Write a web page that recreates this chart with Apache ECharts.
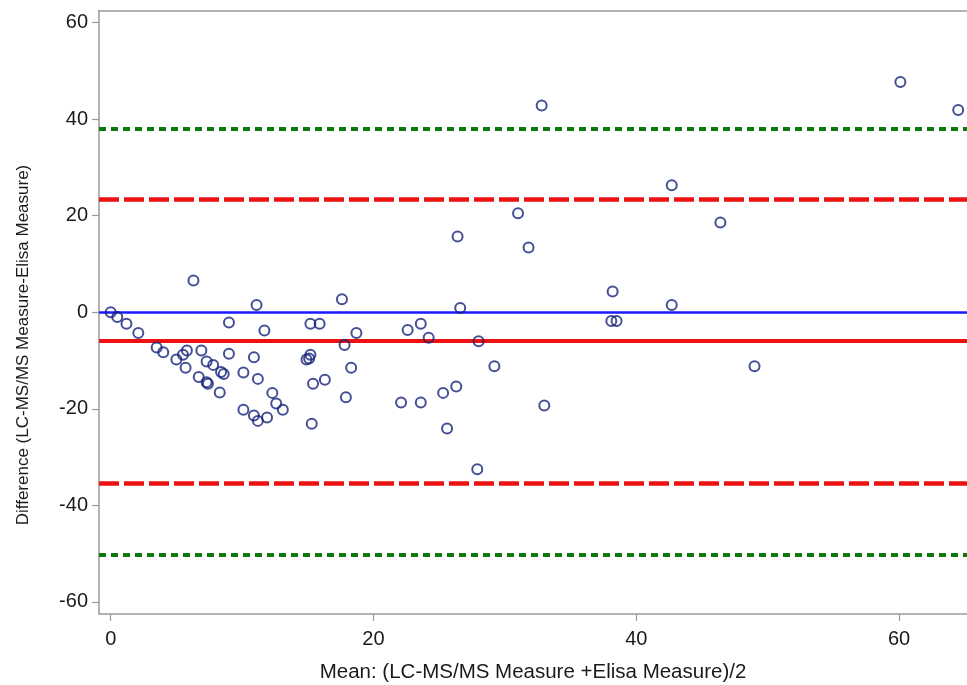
<!DOCTYPE html>
<html>
<head>
<meta charset="utf-8">
<script src="https://cdn.jsdelivr.net/npm/echarts@6/dist/echarts.min.js"></script>
<style>
html,body{margin:0;padding:0;background:#fff;}
#chart{width:967px;height:685px;}
</style>
</head>
<body>
<div id="chart"></div>
<script>
// Mean of the two methods (x) and their difference (y)
var meanVals = [0.0,0.5,1.2,2.1,3.5,4.0,5.0,5.5,5.8,5.7,6.3,6.9,7.3,7.8,6.7,7.3,7.4,8.4,8.6,8.3,
  9.0,9.0,10.1,10.9,11.1,11.2,11.7,10.1,10.9,11.2,11.9,12.3,12.6,13.1,14.9,15.1,15.2,15.2,15.9,15.4,
  16.3,15.3,17.6,17.8,18.7,18.3,17.9,22.1,22.6,23.6,23.6,24.2,25.3,25.6,26.3,26.4,26.6,27.9,28.0,29.2,
  31.0,31.8,32.8,33.0,38.2,38.1,38.5,42.7,42.7,46.4,49.0,60.1,64.5];
var diffVals = [0.0,-1.0,-2.4,-4.3,-7.3,-8.3,-9.8,-8.8,-7.9,-11.5,6.6,-7.9,-10.2,-10.9,-13.4,-14.5,-14.8,-12.4,-12.8,-16.6,
  -8.6,-2.1,-12.5,-9.3,1.5,-13.8,-3.8,-20.2,-21.4,-22.5,-21.8,-16.7,-18.9,-20.2,-9.8,-9.6,-8.8,-2.4,-2.4,-14.8,
  -14.0,-23.1,2.7,-6.8,-4.3,-11.5,-17.6,-18.7,-3.7,-2.4,-18.7,-5.3,-16.7,-24.1,-15.4,15.7,0.9,-32.5,-6.0,-11.2,
  20.5,13.4,42.8,-19.3,4.3,-1.8,-1.8,26.3,1.5,18.6,-11.2,47.7,41.9];

// Reference lines
var zeroLine = 0;
var meanDiff = -6.0;
var loaUpper = 23.5;
var loaLower = -35.5;
var outerUpper = 38.0;
var outerLower = -50.3;

var xTicks = [0, 20, 40, 60];
var yTicks = [-60, -40, -20, 0, 20, 40, 60];

var xTitle = 'Mean: (LC-MS/MS Measure +Elisa Measure)/2';
var yTitle = 'Difference (LC-MS/MS Measure-Elisa Measure)';

var points = meanVals.map(function (m, i) { return [m, diffVals[i]]; });

var chart = echarts.init(document.getElementById('chart'));
var axisGray = '#9a9a9a';
var fontFam = 'Liberation Sans, Arial, sans-serif';

chart.setOption({
  animation: false,
  backgroundColor: '#ffffff',
  grid: { left: 99, top: 10.5, right: 0, bottom: 71, containLabel: false, outerBoundsMode: 'none' },
  xAxis: [{
    type: 'value', min: -0.89, max: 65.17,
    position: 'bottom',
    splitLine: { show: false },
    axisLine: { show: true, onZero: false, lineStyle: { color: axisGray, width: 1.5 } },
    axisTick: { show: true, customValues: xTicks, length: 7, lineStyle: { color: axisGray, width: 1.2 } },
    axisLabel: { customValues: xTicks, margin: 15, color: '#1a1a1a', fontSize: 20, fontFamily: fontFam },
    name: xTitle, nameLocation: 'middle', nameGap: 48,
    nameTextStyle: { color: '#1a1a1a', fontSize: 20.5, fontFamily: fontFam }
  }, {
    type: 'value', min: -0.89, max: 65.17,
    position: 'top',
    splitLine: { show: false },
    axisLine: { show: true, onZero: false, lineStyle: { color: axisGray, width: 1.5 } },
    axisTick: { show: false },
    axisLabel: { show: false }
  }],
  yAxis: {
    type: 'value', min: -62.5, max: 62.5,
    splitLine: { show: false },
    axisLine: { show: true, onZero: false, lineStyle: { color: axisGray, width: 1.5 } },
    axisTick: { show: true, customValues: yTicks, length: 7, lineStyle: { color: axisGray, width: 1.2 } },
    axisLabel: { customValues: yTicks, margin: 11, color: '#1a1a1a', fontSize: 20, fontFamily: fontFam }
  },
  graphic: [{
    type: 'text',
    x: 23, y: 345,
    rotation: Math.PI / 2,
    style: {
      text: yTitle,
      fill: '#1a1a1a',
      font: '17px "Liberation Sans", Arial, sans-serif',
      align: 'center',
      verticalAlign: 'middle'
    }
  }],
  series: [{
    type: 'scatter',
    xAxisIndex: 0,
    data: points,
    symbol: 'circle',
    symbolSize: 10,
    itemStyle: { color: 'rgba(255,255,255,0)', borderColor: '#15237a', borderWidth: 2 },
    z: 5,
    markLine: {
      silent: true,
      symbol: ['none', 'none'],
      label: { show: false },
      animation: false,
      data: [
        { yAxis: outerUpper, lineStyle: { color: '#0b7a0b', width: 4, type: [7, 5] } },
        { yAxis: outerLower, lineStyle: { color: '#0b7a0b', width: 4, type: [7, 5] } },
        { yAxis: loaUpper, lineStyle: { color: '#ee1111', width: 4.5, type: [20, 5] } },
        { yAxis: loaLower, lineStyle: { color: '#ee1111', width: 4.5, type: [20, 5] } },
        { yAxis: zeroLine, lineStyle: { color: '#1a1aff', width: 2.5, type: 'solid' } },
        { yAxis: meanDiff, lineStyle: { color: '#ee1111', width: 4, type: 'solid' } }
      ]
    }
  }]
});
</script>
</body>
</html>
